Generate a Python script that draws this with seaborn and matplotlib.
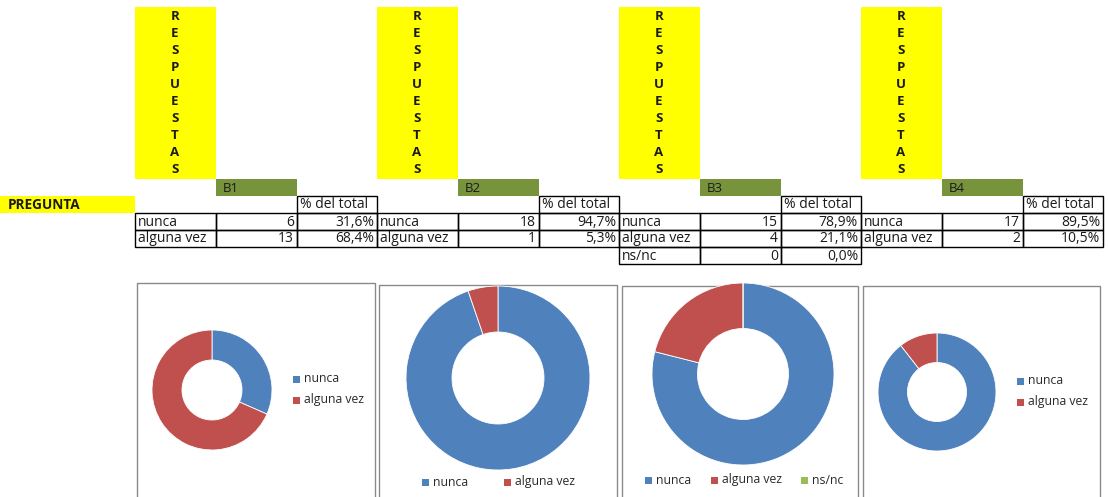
import matplotlib
matplotlib.use("Agg")
import matplotlib.pyplot as plt
from matplotlib.patches import Rectangle
import seaborn as sns

preguntas = ["B1", "B2", "B3", "B4"]
nunca = [6, 18, 15, 17]
alguna_vez = [13, 1, 4, 2]
ns_nc = [None, None, 0, None]
categorias = ["nunca", "alguna vez", "ns/nc"]

sns.set_theme(style="white")
plt.rcParams["font.family"] = ["Open Sans", "DejaVu Sans"]
colores = sns.color_palette(["#4F81BD", "#C0504D", "#9BBB59"])

W, H = 1108, 497
fig = plt.figure(figsize=(W / 100, H / 100), dpi=100)
fig.patch.set_facecolor("white")

# background axes in pixel coordinates for the sheet cells
bg = fig.add_axes([0, 0, 1, 1])
bg.set_xlim(0, W)
bg.set_ylim(H, 0)
bg.axis("off")

txt = "#1a1a1a"
amarillo = "#FFFF00"
verde = "#77933C"
fs = 10

# PREGUNTA label
bg.add_patch(Rectangle((0, 196), 135, 17, color=amarillo, lw=0))
bg.text(8, 205, "PREGUNTA", fontsize=9.8, fontweight="bold", va="center", color=txt)

block_x = [135, 377, 619, 861]
cols = [81, 81, 80]


def fmt_pct(v, total):
    return f"{100 * v / total:.1f}%".replace(".", ",")


for i, x0 in enumerate(block_x):
    # yellow vertical header
    bg.add_patch(Rectangle((x0, 7), 81, 172, color=amarillo, lw=0))
    for k, letra in enumerate("RESPUESTAS"):
        bg.text(x0 + 40, 17 + k * 16.9, letra, fontsize=9.5, fontweight="bold",
                ha="center", va="center", color=txt)
    # green question tag
    bg.add_patch(Rectangle((x0 + 81, 179), 81, 17, color=verde, lw=0))
    bg.text(x0 + 88, 188, preguntas[i], fontsize=9.5, va="center", color=txt)

    # table
    xs = [x0, x0 + cols[0], x0 + cols[0] + cols[1], x0 + sum(cols)]
    bg.add_patch(Rectangle((xs[2], 196), cols[2], 17, fill=False, ec="black", lw=1))
    bg.text(xs[2] + 3, 205, "% del total", fontsize=fs, va="center", color=txt)

    filas = [("nunca", nunca[i]), ("alguna vez", alguna_vez[i])]
    if ns_nc[i] is not None:
        filas.append(("ns/nc", ns_nc[i]))
    total = sum(v for _, v in filas)
    for r, (lab, v) in enumerate(filas):
        y = 213 + r * 17
        for c in range(3):
            bg.add_patch(Rectangle((xs[c], y), cols[c], 17, fill=False, ec="black", lw=1))
        bg.text(xs[0] + 3, y + 9, lab, fontsize=fs, va="center", color=txt)
        bg.text(xs[2] - 3, y + 9, str(v), fontsize=fs, va="center", ha="right", color=txt)
        bg.text(xs[3] - 3, y + 9, fmt_pct(v, total), fontsize=fs, va="center",
                ha="right", color=txt)

# chart frames
frames = [(137, 283, 375), (379, 285, 617), (622, 286, 858), (863, 286, 1100)]
for fx0, fy0, fx1 in frames:
    bg.add_patch(Rectangle((fx0, fy0), fx1 - fx0, H - fy0 + 5, fill=False,
                           ec="#8a8a8a", lw=1))

# donuts: center x, center y, outer radius (pixels)
donas = [(212, 390, 60), (498, 378, 92), (743, 374, 91), (937, 392, 59)]
for i, (cx, cy, r) in enumerate(donas):
    ax = fig.add_axes([(cx - r) / W, 1 - (cy + r) / H, 2 * r / W, 2 * r / H])
    vals = [nunca[i], alguna_vez[i]]
    if ns_nc[i] is not None:
        vals.append(ns_nc[i])
    ax.pie(vals, colors=colores[:len(vals)], startangle=90, counterclock=False,
           radius=1, wedgeprops=dict(width=0.5, edgecolor="white", linewidth=0.6))
    ax.set_xlim(-1, 1)
    ax.set_ylim(-1, 1)
    ax.axis("off")

# legends
leg_txt = "#2a2a2a"


def marca(x, y, color, lab):
    bg.add_patch(Rectangle((x - 3.5, y - 3.5), 7, 7, color=color, lw=0))
    bg.text(x + 8, y, lab, fontsize=8.8, va="center", color=leg_txt)


# side legends (B1, B4)
for mx, ys in [(296, (379, 400)), (1020, (381, 402))]:
    for k, y in enumerate(ys):
        marca(mx, y, colores[k], categorias[k])
# bottom legends (B2, B3)
for k, mx in enumerate([425, 507]):
    marca(mx, 482, colores[k], categorias[k])
for k, mx in enumerate([648, 714, 804]):
    marca(mx, 480, colores[k], categorias[k])

fig.savefig("out.png", dpi=100)
